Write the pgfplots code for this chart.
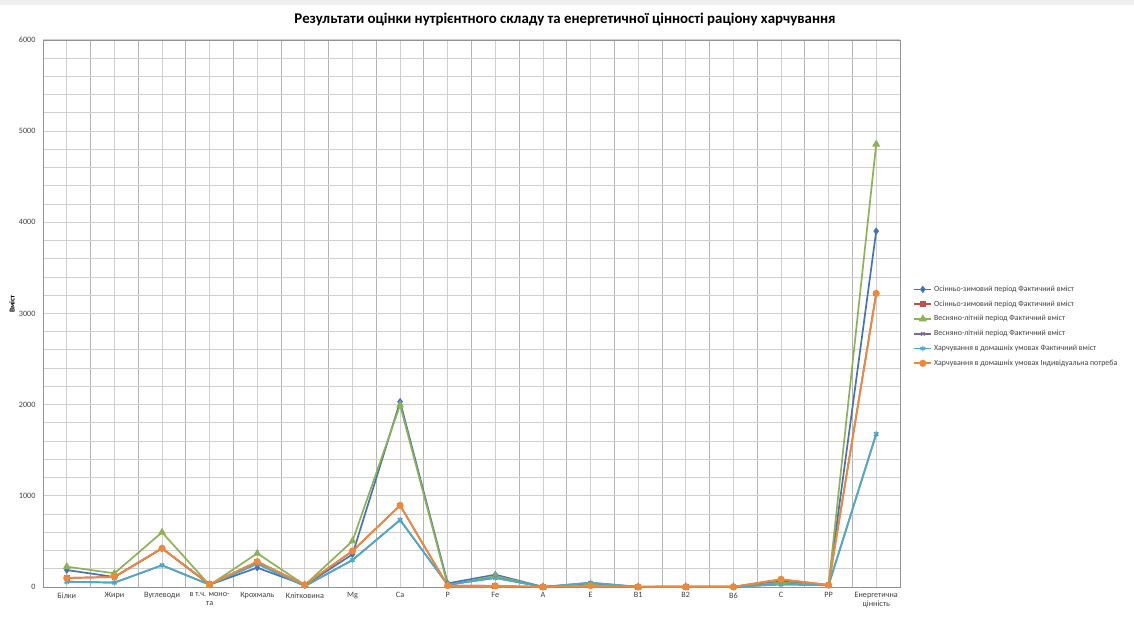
\documentclass[border=0pt]{standalone}
\usepackage{pgfplots}
\pgfplotsset{compat=1.18}
\usepackage{fontspec}
\setmainfont{Carlito}

\definecolor{sBlue}{HTML}{4572B8}
\definecolor{sRed}{HTML}{C0504D}
\definecolor{sGreen}{HTML}{8DB255}
\definecolor{sPurple}{HTML}{8064A2}
\definecolor{sAqua}{HTML}{4BACC6}
\definecolor{sOrange}{HTML}{F0883A}
\definecolor{gridDark}{HTML}{B4B4B4}
\definecolor{gridLight}{HTML}{CFCFCF}
\definecolor{tickText}{HTML}{404040}

\begin{document}
\begin{tikzpicture}
\path[use as bounding box] (0,0) rectangle (1134bp,617bp);
\fill[gray!12] (0,612bp) rectangle (1134bp,617bp);

\node[font=\fontsize{14.9}{16}\selectfont\bfseries] at (565bp,598bp)
  {Результати оцінки нутрієнтного складу та енергетичної цінності раціону харчування};
\node[rotate=90,font=\fontsize{7.5}{8.5}\selectfont\bfseries] at (12bp,313bp) {Вміст};

\begin{axis}[
  at={(43bp,30bp)}, anchor=south west,
  scale only axis, width=857bp, height=547bp,
  xmin=-0.5, xmax=17.5, ymin=0, ymax=6000,
  xtick={0,...,17},
  xticklabels={Білки,Жири,Вуглеводи,{в т.ч. моно-\\та},Крохмаль,Клітковина,Mg,Ca,P,Fe,A,E,B1,B2,B6,C,PP,{Енергетична\\цінність}},
  minor x tick num=1,
  ytick={0,1000,...,6000},
  minor y tick num=4,
  grid=both,
  major x grid style={gridLight, line width=0.8pt},
  minor x grid style={gridDark, line width=0.8pt},
  major y grid style={gridLight, line width=1pt},
  minor y grid style={gridLight, line width=1pt},
  major tick length=0pt, minor tick length=0pt,
  axis line style={gray!85, line width=0.8pt},
  ticklabel style={font=\fontsize{8.2}{9.2}\selectfont, text=tickText},
  xticklabel style={align=center, yshift=-2pt},
  yticklabel style={xshift=-4pt},
  /pgf/number format/assume math mode=true,
  /pgf/number format/1000 sep={},
  clip=false,
  legend style={at={(1.012,0.558)}, anchor=north west, draw=none, fill=none,
    font=\fontsize{7.9}{8.8}\selectfont, text=tickText,
    row sep=3.9pt, cells={anchor=west}},
  legend cell align=left,
  every axis plot/.append style={line width=1.7pt},
]
% Осінньо-зимовий період, фактичний вміст
\addplot[sBlue, mark=diamond*, mark size=2.4pt] coordinates {
(0,186) (1,110) (2,424) (3,25) (4,212) (5,20) (6,358) (7,2032) (8,40) (9,135)
(10,2) (11,30) (12,2) (13,2) (14,2) (15,60) (16,22) (17,3903)};
\addlegendentry{Осінньо-зимовий період Фактичний вміст}
\addplot[sRed, mark=square*, mark size=2pt] coordinates {
(0,99) (1,110) (2,424) (3,30) (4,278) (5,25) (6,395) (7,895) (8,15) (9,12)
(10,1) (11,15) (12,2) (13,2.5) (14,2) (15,84) (16,22) (17,3220)};
\addlegendentry{Осінньо-зимовий період Фактичний вміст}
% Весняно-літній період
\addplot[sGreen, mark=triangle*, mark size=3pt] coordinates {
(0,223) (1,150) (2,600) (3,20) (4,369) (5,22) (6,504) (7,1996) (8,20) (9,120)
(10,1) (11,25) (12,1.5) (13,2) (14,2) (15,48) (16,20) (17,4857)};
\addlegendentry{Весняно-літній період Фактичний  вміст}
\addplot[sPurple, mark=x, mark size=2.6pt, mark options={line width=1pt}] coordinates {
(0,58) (1,48) (2,238) (3,25) (4,255) (5,10) (6,296) (7,735) (8,25) (9,100)
(10,1) (11,47) (12,1.5) (13,2) (14,2) (15,29) (16,20) (17,1678)};
\addlegendentry{Весняно-літній період Фактичний  вміст}
% Харчування в домашніх умовах
\addplot[sAqua, mark=asterisk, mark size=2.8pt, mark options={line width=1pt}] coordinates {
(0,58) (1,48) (2,238) (3,25) (4,255) (5,10) (6,296) (7,735) (8,25) (9,100)
(10,1) (11,47) (12,1.5) (13,2) (14,2) (15,29) (16,20) (17,1678)};
\addlegendentry{Харчування в домашніх умовах Фактичний  вміст}
\addplot[sOrange, mark=*, mark size=2.7pt] coordinates {
(0,99) (1,110) (2,424) (3,30) (4,278) (5,25) (6,395) (7,895) (8,15) (9,12)
(10,1) (11,15) (12,2) (13,2.5) (14,2) (15,84) (16,22) (17,3220)};
\addlegendentry{Харчування в домашніх умовах Індивідуальна  потреба}
\end{axis}
\end{tikzpicture}
\end{document}
